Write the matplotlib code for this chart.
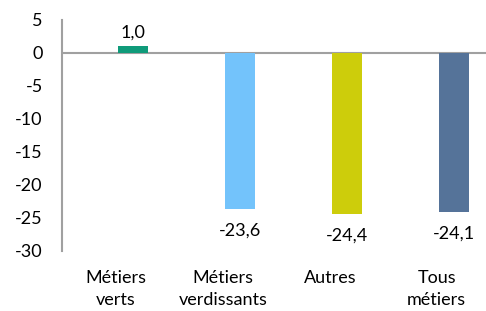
import matplotlib.pyplot as plt

# Data
categories = ["Métiers\nverts", "Métiers\nverdissants", "Autres", "Tous\nmétiers"]
values = [1.0, -23.6, -24.4, -24.1]
labels = ["1,0", "-23,6", "-24,4", "-24,1"]
colors = ["#0f9b7a", "#73c3fb", "#cdcd0b", "#557399"]
yticks = [5, 0, -5, -10, -15, -20, -25, -30]

plt.rcParams['font.family'] = ['Lato', 'DejaVu Sans']

fig = plt.figure(figsize=(4.86, 3.11), dpi=100)
ax = fig.add_axes([0.128, 0.193, 0.872, 0.743])

# bars sit a bit right of the category centre, like the Excel original
shift = 0.165
x = list(range(len(categories)))
bx = [i + shift for i in x]
ax.bar(bx, values, width=0.28, color=colors, zorder=2)

# Value labels
for i, v in enumerate(values):
    if v >= 0:
        ax.annotate(labels[i], (bx[i], v), xytext=(0, 4), textcoords="offset points",
                    ha="center", va="bottom", fontsize=13)
    else:
        ax.annotate(labels[i], (bx[i], v), xytext=(0, -10), textcoords="offset points",
                    ha="center", va="top", fontsize=13)

ax.axhline(0, color="#a0a0a0", linewidth=1.5, zorder=1)
ax.set_ylim(-30, 5)
ax.set_xlim(-0.5, 3.46)
ax.set_yticks(yticks)
ax.set_yticklabels([str(t) for t in yticks], fontsize=13)
ax.set_xticks(x)
ax.set_xticklabels(categories, fontsize=13, linespacing=1.4)
ax.tick_params(axis="both", length=0)
ax.tick_params(axis="y", pad=14)
ax.tick_params(axis="x", pad=14)

for side in ["top", "right", "bottom"]:
    ax.spines[side].set_visible(False)
ax.spines["left"].set_color("#a0a0a0")
ax.spines["left"].set_linewidth(1.5)

plt.savefig("out.png", dpi=100)
